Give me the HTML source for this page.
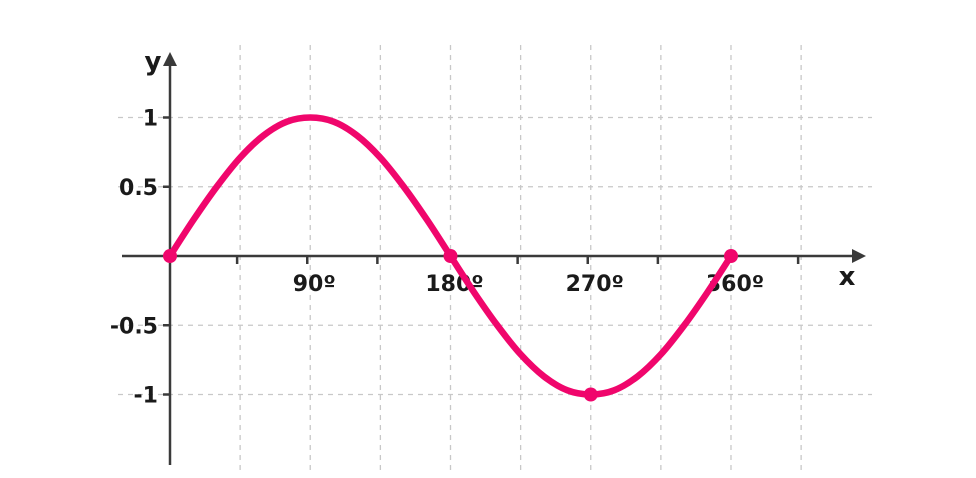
<!DOCTYPE html>
<html><head><meta charset="utf-8"><style>
html,body{margin:0;padding:0;background:#fff;}
svg{display:block;font-family:"DejaVu Sans","Liberation Sans",sans-serif;}
</style></head><body>
<svg id="chart" width="976" height="478" viewBox="0 0 976 478"></svg>
<script>
const xGridDeg=[45,90,135,180,225,270,315,360,405];
const yGridVals=[1,0.5,-0.5,-1];
const yTickLabels=["1","0.5","-0.5","-1"];
const xTickDeg=[45,90,135,225,270,315,405];
const xLabelDeg=[90,180,270,360];
const xLabels=["90º","180º","270º","360º"];
const curveDeg=[0,15,30,45,60,75,90,105,120,135,150,165,180,195,210,225,240,255,270,285,300,315,330,345,360];
const curveVal=[0,0.26,0.5,0.71,0.87,0.97,1,0.97,0.87,0.71,0.5,0.26,0,-0.26,-0.5,-0.71,-0.87,-0.97,-1,-0.97,-0.87,-0.71,-0.5,-0.26,0];
const dotDeg=[0,180,270,360];
const dotVal=[0,0,-1,0];
const NS="http://www.w3.org/2000/svg";
const svg=document.getElementById('chart');
const X=d=>170+d*(561/360);
const Y=v=>256-v*138.5;
function mk(t,a){const e=document.createElementNS(NS,t);for(const k in a)e.setAttribute(k,a[k]);svg.appendChild(e);return e;}
xGridDeg.forEach(d=>{const e=mk('line',{x1:X(d),x2:X(d),y1:45,y2:470,stroke:'#c8c8c8','stroke-width':1.3,'stroke-dasharray':'5 5'});

});
yGridVals.forEach(v=>{const e=mk('line',{x1:118,x2:872,y1:Y(v),y2:Y(v),stroke:'#c8c8c8','stroke-width':1.3,'stroke-dasharray':'5 5'});

});
let e=mk('line',{x1:122,x2:858,y1:256,y2:256,stroke:'#3a3a3a','stroke-width':2.5});


e=mk('polygon',{points:'866,256 852,249 852,263',fill:'#3a3a3a'});


e=mk('line',{x1:170,x2:170,y1:62,y2:465,stroke:'#3a3a3a','stroke-width':2.5});


e=mk('polygon',{points:'170,52 163,66 177,66',fill:'#3a3a3a'});


xTickDeg.forEach(d=>{const t=mk('line',{x1:X(d)-3,x2:X(d)-3,y1:256,y2:264,stroke:'#3a3a3a','stroke-width':2.5});

});
yGridVals.forEach((v,i)=>{const t=mk('line',{x1:163,x2:170,y1:Y(v),y2:Y(v),stroke:'#3a3a3a','stroke-width':2.5});


const l=mk('text',{x:158,y:Y(v)+8,'text-anchor':'end','font-size':22,'font-weight':600,fill:'#1a1a1a'});l.textContent=yTickLabels[i];

});
xLabelDeg.forEach((d,i)=>{const l=mk('text',{x:X(d)+4,y:291,'text-anchor':'middle','font-size':22,'font-weight':600,fill:'#1a1a1a'});l.textContent=xLabels[i];

});
e=mk('text',{x:847,y:285,'text-anchor':'middle','font-size':26,'font-weight':600,fill:'#1a1a1a'});e.textContent='x';


e=mk('text',{x:153,y:70,'text-anchor':'middle','font-size':26,'font-weight':600,fill:'#1a1a1a'});e.textContent='y';


const pts=curveDeg.map((d,i)=>[X(d),Y(curveVal[i])]);
let p='M'+pts[0][0]+','+pts[0][1];
for(let i=0;i<pts.length-1;i++){const p0=pts[Math.max(0,i-1)],p1=pts[i],p2=pts[i+1],p3=pts[Math.min(pts.length-1,i+2)];
p+=' C'+(p1[0]+(p2[0]-p0[0])/6)+','+(p1[1]+(p2[1]-p0[1])/6)+' '+(p2[0]-(p3[0]-p1[0])/6)+','+(p2[1]-(p3[1]-p1[1])/6)+' '+p2[0]+','+p2[1];}
e=mk('path',{d:p,fill:'none',stroke:'#f0066c','stroke-width':6.5,'stroke-linecap':'round'});


dotDeg.forEach((d,i)=>{const c=mk('circle',{cx:X(d),cy:Y(dotVal[i]),r:7,fill:'#f0066c'});

});
</script>
</body></html>
